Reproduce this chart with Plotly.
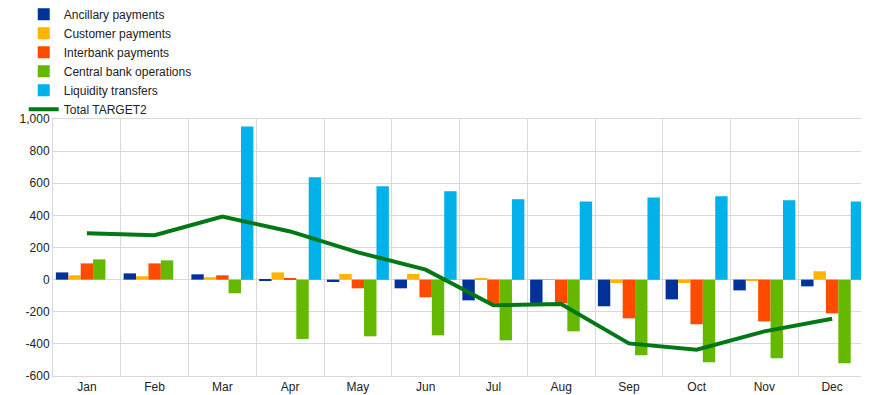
import plotly.graph_objects as go

months = ["Jan", "Feb", "Mar", "Apr", "May", "Jun", "Jul", "Aug", "Sep", "Oct", "Nov", "Dec"]
ancillary = [45, 39, 33, -3, -15, -54, -129, -147, -166, -123, -67, -42]
customer = [27, 21, 15, 45, 35, 35, 8, 2, -21, -21, -8, 52]
interbank = [101, 101, 27, 8, -54, -110, -147, -147, -241, -278, -260, -210]
central = [126, 120, -85, -370, -353, -347, -378, -322, -471, -515, -490, -521]
liquidity = [0, 0, 954, 637, 581, 550, 500, 487, 512, 519, 494, 487]
total = [288, 276, 392, 300, 170, 62, -160, -152, -397, -436, -322, -243]

ytickvals = [-600, -400, -200, 0, 200, 400, 600, 800, 1000]
yticktext = ["-600", "-400", "-200", "0", "200", "400", "600", "800", "1,000"]

series = [
    ("Ancillary payments", ancillary, "#003299"),
    ("Customer payments", customer, "#FFB400"),
    ("Interbank payments", interbank, "#FF4B00"),
    ("Central bank operations", central, "#65B800"),
    ("Liquidity transfers", liquidity, "#00B1EA"),
]

fig = go.Figure()
for name, vals, col in series:
    fig.add_trace(go.Bar(x=months, y=vals, name=name, marker=dict(color=col, line=dict(width=0))))
fig.add_trace(go.Scatter(x=months, y=total, name="Total TARGET2", mode="lines",
                         line=dict(color="#007816", width=4)))

fig.update_layout(
    width=869, height=395,
    margin=dict(l=45, r=11, t=111, b=27, autoexpand=False),
    paper_bgcolor="white", plot_bgcolor="white",
    barmode="group", bargap=0.085, bargroupgap=0,
    font=dict(family="Liberation Sans, Arial, sans-serif", size=12, color="#222222"),
    legend=dict(x=-0.036, xanchor="left", y=1.464, yanchor="top", yref="paper",
                font=dict(size=12), tracegroupgap=0, itemwidth=30,
                bgcolor="rgba(0,0,0,0)", borderwidth=0),
    showlegend=True,
)
fig.update_xaxes(type="category", tickson="boundaries", showgrid=True, gridcolor="#d9d9d9",
                 gridwidth=1, showline=True, linecolor="#d9d9d9", mirror=True, ticks="",
                 range=[-0.5, 11.5])
fig.update_yaxes(range=[-600, 1000], tickvals=ytickvals, ticktext=yticktext, showgrid=True,
                 gridcolor="#d9d9d9", gridwidth=1, zeroline=True, zerolinecolor="#d9d9d9",
                 zerolinewidth=1, showline=True, linecolor="#d9d9d9", mirror=True, ticks="")

fig.write_html("out.html")
